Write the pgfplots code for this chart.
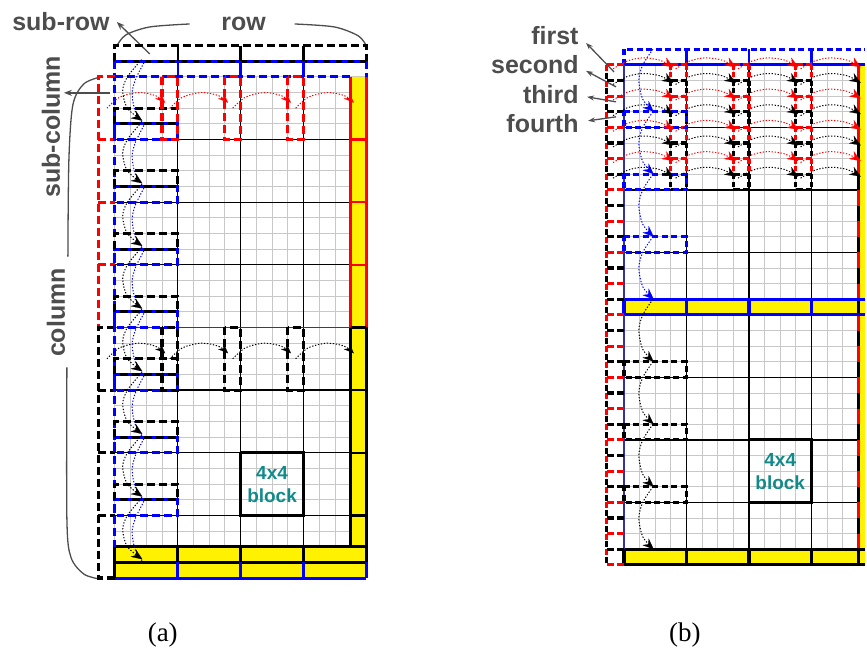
\documentclass[border=0pt]{standalone}
\usepackage{pgfplots}
\pgfplotsset{compat=1.18}
\usepackage{pgfplotstable}
\usetikzlibrary{arrows.meta}
\usepackage{fontspec}
\setmainfont{Liberation Serif}
\newfontfamily\arial{Liberation Sans}
\definecolor{txtgray}{RGB}{77,77,77}
\definecolor{navy}{RGB}{51,51,153}
\definecolor{tealtxt}{RGB}{18,138,138}
\definecolor{gridgray}{RGB}{200,200,200}

% red / black arcs across a block row (panel a)
\pgfplotstableread{
x y
-0.5 2.0
0.3 1.3
1.5 1.0
2.6 1.2
3.2 1.65
}\arcA
% arcs across rows (panel b)
\pgfplotstableread{
x y
-0.7 0.25
0.2 -0.25
1.2 -0.45
2.3 -0.3
3.15 0.15
}\arcB
% vertical wave in first block column (panel b)
\pgfplotstableread{
x y
1.85 -1.0
1.2 0.0
0.95 1.0
1.2 2.2
1.9 3.0
}\arcC
% waves in first block column (panel a)
\pgfplotstableread{
x y
1.7 -1.1
0.8 0.0
0.5 0.9
0.8 2.0
1.75 2.8
}\waveK
\pgfplotstableread{
x y
1.85 -0.9
1.3 0.2
1.1 1.1
1.3 2.2
1.8 3.0
}\waveB
% rectangles
\pgfplotstableread{
x y
0 3
0 2
4 2
4 3
0 3
}\rectBlack
\pgfplotstableread{
x y
0 3
4 3
4 4
0 4
0 3
}\rectBlue
\pgfplotstableread{
x y
0 0
0 4
1 4
1 0
0 0
}\vrect
\pgfplotstableread{
x y
0 0
4 0
4 1
0 1
0 0
}\rowRect
\pgfplotstableread{
x y
0 0
0 8
}\vseg
\pgfplotstableread{
x y
0 0
1 0
}\hseg

\tikzset{
  dsh/.style={line width=3.2pt, dash pattern=on 8pt off 4pt},
  dshs/.style={line width=3.2pt, dash pattern=on 6pt off 3.5pt},
  dshb/.style={line width=3.2pt, dash pattern=on 6pt off 6pt},
  mydot/.style={line width=1pt, dash pattern=on 1.3pt off 1.7pt},
  arrK/.style={-{Stealth[length=10pt,width=8pt,line width=0.1pt]}},
  arrL/.style={-{Stealth[length=11pt,width=9pt,line width=0.1pt]}},
  conn/.style={txtgray, line width=1.3pt},
  lbl/.style={font=\arial\bfseries\fontsize{25}{30}\selectfont, text=txtgray},
  blk/.style={font=\arial\bfseries\fontsize{19}{23}\selectfont, text=tealtxt, align=center},
  redv/.style={red, line width=3.2pt, dash pattern=on 5pt off 2.5pt on 5pt off 18.8pt},
  blackv/.style={black, line width=3.2pt, dash pattern=on 5pt off 2.5pt on 5pt off 18.8pt, dash phase=15.65pt},
  hd/.style={line width=3.2pt, dash pattern=on 7pt off 3pt},
}
\pgfplotsset{
  panel/.style={scale only axis, anchor=north west, ymin=0, ymax=32, y dir=reverse,
    clip=false, ytick={0,...,32}, xticklabels={}, yticklabels={},
    major tick length=0pt, tick style={draw=none}, grid=major,
    major grid style={gridgray, line width=0.9pt}, axis line style={draw=none},
    extra x ticks={4,8,12}, extra x tick labels={}, extra y tick labels={},
    extra tick style={major grid style={black, line width=1.3pt}}},
}

\begin{document}
\begin{tikzpicture}
% ---------------- background axis: labels and connectors (pixel units)
\begin{axis}[at={(0,0)}, anchor=south west, scale only axis, width=867pt, height=662pt,
  xmin=0, xmax=867, ymin=0, ymax=662, y dir=reverse, hide axis, clip=false]
\addplot[draw=none] coordinates {(0,0) (867,662)};
\node[lbl] at (axis cs:61,22) {sub-row};
\node[lbl] at (axis cs:244,24) {row};
\node[lbl, rotate=90] at (axis cs:51,127) {sub-column};
\node[lbl, rotate=90] at (axis cs:56,313) {column};
\node[lbl, anchor=east] at (axis cs:583,36) {first};
\node[lbl, anchor=east] at (axis cs:583,65) {second};
\node[lbl, anchor=east] at (axis cs:583,95) {third};
\node[lbl, anchor=east] at (axis cs:583,124) {fourth};
\node[font=\fontsize{27}{30}\selectfont] at (axis cs:163,636) {(a)};
\node[font=\fontsize{27}{30}\selectfont] at (axis cs:686,636) {(b)};
% braces and arrows
\addplot[conn, smooth] coordinates {(190,24) (150,27) (126,35) (117,46)};
\addplot[conn, smooth] coordinates {(295,24) (335,27) (359,36) (367,46)};
\addplot[conn, -{Stealth[length=8pt,width=6pt]}] coordinates {(150,54) (117,22)};
\addplot[conn, -{Stealth[length=8pt,width=6pt]}] coordinates {(110,93) (64,93)};
\addplot[conn, smooth] coordinates {(101,77) (84,84) (73,105) (69,160) (68,257)};
\addplot[conn, smooth] coordinates {(67,368) (67,520) (71,558) (84,575) (100,580)};
\addplot[conn, -{Stealth[length=7pt,width=5pt]}] coordinates {(615,72) (587,43)};
\addplot[conn, -{Stealth[length=7pt,width=5pt]}] coordinates {(617,87) (587,71)};
\addplot[conn, -{Stealth[length=7pt,width=5pt]}] coordinates {(617,102) (588,97)};
\addplot[conn, -{Stealth[length=7pt,width=5pt]}] coordinates {(617,117) (589,121)};
\end{axis}

% ---------------- panel (a)
\begin{axis}[panel, at={(115pt,585pt)}, width=252pt, height=502pt,
  xmin=0, xmax=16, xtick={0,...,16}, extra y ticks={4,8,12,16,20,24,28}]
% yellow areas
\addplot[fill=yellow, draw=none] coordinates {(15,0) (16,0) (16,30) (15,30) (15,0)};
\addplot[fill=yellow, draw=none] coordinates {(0,30) (16,30) (16,32) (0,32) (0,30)};
% yellow column borders
\addplot[red, line width=3pt] coordinates {(15,0) (15,16)};
\addplot[red, line width=3pt] coordinates {(16,0) (16,16)};
\pgfplotsinvokeforeach{4,8,12}{\addplot[red, line width=2.2pt] coordinates {(15,#1) (16,#1)};}
\addplot[black, line width=3pt] coordinates {(15,16) (15,30)};
\addplot[black, line width=3pt] coordinates {(16,16) (16,30)};
\pgfplotsinvokeforeach{16,20,24,28}{\addplot[black, line width=2.2pt] coordinates {(15,#1) (16,#1)};}
% yellow rows
\addplot[black, line width=3pt] coordinates {(0,30) (16,30)};
\addplot[black, line width=3pt] coordinates {(0,31) (16,31)};
\addplot[blue, line width=3pt] coordinates {(0,32) (16,32)};
\pgfplotsinvokeforeach{4,8,12}{
  \addplot[black, line width=3pt] coordinates {(#1,30) (#1,31)};
  \addplot[blue, line width=3pt] coordinates {(#1,31) (#1,32)};
}
\addplot[black, line width=3pt] coordinates {(16,30) (16,31)};
\addplot[blue, line width=3pt] coordinates {(16,31) (16,32)};
% navy separator
\addplot[navy, line width=1.8pt] coordinates {(0,16) (15,16)};
% sub-rows above
\addplot[black, dsh] coordinates {(0,-1) (0,-2) (16,-2) (16,-1)};
\addplot[blue, dsh] coordinates {(0,-1) (0,0)};
\addplot[blue, dsh] coordinates {(16,-1) (16,0)};
\addplot[blue, dshb] coordinates {(0,-1) (16,-1)};
\addplot[black, dshb, dash phase=6pt] coordinates {(0,-1) (16,-1)};
\addplot[blue, dsh] coordinates {(0,0) (15,0)};
\pgfplotsinvokeforeach{4,8,12}{
  \addplot[black, line width=2.4pt] coordinates {(#1,-2) (#1,-1)};
  \addplot[blue, line width=2.4pt] coordinates {(#1,-1) (#1,0)};
}
% left sub-column
\addplot[red, dsh] coordinates {(0,0) (-1.05,0) (-1.05,16) (0,16)};
\pgfplotsinvokeforeach{4,8,12}{\addplot[red, dsh] coordinates {(-1.05,#1) (0,#1)};}
\addplot[black, dsh] coordinates {(0,16) (-1.05,16) (-1.05,32) (0,32)};
\pgfplotsinvokeforeach{20,24,28}{\addplot[black, dsh] coordinates {(-1.05,#1) (0,#1)};}
\addplot[blue, dsh, dash phase=4pt] coordinates {(0,0) (0,30)};
\addplot[black, line width=3pt] coordinates {(0,30) (0,32)};
% rectangles in first block column
\pgfplotsinvokeforeach{0,4,...,24}{
  \addplot[blue, dsh] table[x=x, y expr=\thisrow{y}+#1] {\rectBlue};
  \addplot[black, dsh] table[x=x, y expr=\thisrow{y}+#1] {\rectBlack};
}
% vertical dashed rectangles
\pgfplotsinvokeforeach{3,7,11}{
  \addplot[red, dsh] table[x expr=\thisrow{x}+#1, y=y] {\vrect};
  \addplot[black, dsh] table[x expr=\thisrow{x}+#1, y expr=\thisrow{y}+16] {\vrect};
}
% arcs across blocks
\pgfplotsinvokeforeach{0,4,8,12}{
  \addplot[red, mydot, smooth, arrK] table[x expr=\thisrow{x}+#1, y=y] {\arcA};
  \addplot[black, mydot, smooth, arrK] table[x expr=\thisrow{x}+#1, y expr=\thisrow{y}+16] {\arcA};
}
% waves down the first block column
\pgfplotsinvokeforeach{0,4,...,28}{
  \addplot[blue, mydot, smooth] table[x=x, y expr=\thisrow{y}+#1] {\waveB};
  \addplot[black, mydot, smooth, arrL] table[x=x, y expr=\thisrow{y}+#1] {\waveK};
}
% 4x4 block
\addplot[black, line width=2.8pt, line cap=square] coordinates {(8,24) (12,24) (12,28) (8,28) (8,24)};
\node[blk] at (axis cs:10,26) {4x4\\block};
\end{axis}

% ---------------- panel (b)
\begin{axis}[panel, at={(625pt,597pt)}, width=241.8pt, height=500.8pt,
  xmin=0, xmax=15.45, xtick={0,...,15}, extra y ticks={4,8,12,20,24,28}]
% yellow areas
\addplot[fill=yellow, draw=none] coordinates {(15,0) (15.45,0) (15.45,32) (15,32) (15,0)};
\addplot[fill=yellow, draw=none] coordinates {(0,15) (15.45,15) (15.45,16) (0,16) (0,15)};
\addplot[fill=yellow, draw=none] coordinates {(0,31) (15.45,31) (15.45,32) (0,32) (0,31)};
% yellow column edge (red / black by row)
\addplot[red, line width=3pt] coordinates {(15,0) (15,32)};
\addplot[black, line width=3pt, dash pattern=on 15.65pt off 15.65pt, dash phase=15.65pt] coordinates {(15,0) (15,32)};
% yellow rows
\addplot[blue, line width=3.2pt] coordinates {(0,15) (15.45,15)};
\addplot[blue, line width=3.2pt] coordinates {(0,16) (15.45,16)};
\addplot[black, line width=3.2pt] coordinates {(0,31) (15.45,31)};
\addplot[black, line width=3.2pt] coordinates {(0,32) (15.45,32)};
\pgfplotsinvokeforeach{0,4,8,12}{
  \addplot[blue, line width=3.2pt] coordinates {(#1,15) (#1,16)};
  \addplot[black, line width=3.2pt] coordinates {(#1,31) (#1,32)};
}
% top edge, left edge
\addplot[blue, line width=3.2pt] coordinates {(0,0) (15.45,0)};
\addplot[navy, line width=1.4pt] coordinates {(0,0) (0,15)};
\addplot[navy, line width=1.4pt] coordinates {(0,16) (0,31)};
% sub-row
\addplot[blue, dshs] coordinates {(0,0) (0,-1) (15.45,-1)};
\pgfplotsinvokeforeach{4,8,12}{\addplot[blue, line width=2.4pt] coordinates {(#1,-1) (#1,0)};}
% left sub-column
\addplot[red, line width=3.2pt, dash pattern=on 6pt off 9.65pt] coordinates {(-1.1,0) (-1.1,32)};
\addplot[black, line width=3.2pt, dash pattern=on 6pt off 9.65pt, dash phase=7.8pt] coordinates {(-1.1,0) (-1.1,32)};
\pgfplotsinvokeforeach{0,2,...,32}{\addplot[red, hd] coordinates {(-1.1,#1) (0,#1)};}
\pgfplotsinvokeforeach{1,3,...,31}{\addplot[black, hd] coordinates {(-1.1,#1) (0,#1)};}
% vertical strips in the first two block rows
\pgfplotsinvokeforeach{3,7,11}{
  \addplot[redv] table[x expr=\thisrow{x}+#1, y=y] {\vseg};
  \addplot[blackv] table[x expr=\thisrow{x}+#1, y=y] {\vseg};
  \addplot[redv] table[x expr=\thisrow{x}+#1+1, y=y] {\vseg};
  \addplot[blackv] table[x expr=\thisrow{x}+#1+1, y=y] {\vseg};
  \addplot[red, hd] table[x expr=\thisrow{x}+#1, y expr=\thisrow{y}+0] {\hseg};
  \addplot[black, hd] table[x expr=\thisrow{x}+#1, y expr=\thisrow{y}+1] {\hseg};
  \addplot[red, hd] table[x expr=\thisrow{x}+#1, y expr=\thisrow{y}+2] {\hseg};
  \addplot[black, hd] table[x expr=\thisrow{x}+#1, y expr=\thisrow{y}+3] {\hseg};
  \addplot[red, hd] table[x expr=\thisrow{x}+#1, y expr=\thisrow{y}+4] {\hseg};
  \addplot[black, hd] table[x expr=\thisrow{x}+#1, y expr=\thisrow{y}+5] {\hseg};
  \addplot[red, hd] table[x expr=\thisrow{x}+#1, y expr=\thisrow{y}+6] {\hseg};
  \addplot[black, hd] table[x expr=\thisrow{x}+#1, y expr=\thisrow{y}+7] {\hseg};
  \addplot[black, hd] table[x expr=\thisrow{x}+#1, y expr=\thisrow{y}+8] {\hseg};
}
% row rectangles in the first block column
\pgfplotsinvokeforeach{3,7,11}{\addplot[blue, dshs] table[x=x, y expr=\thisrow{y}+#1] {\rowRect};}
\pgfplotsinvokeforeach{19,23,27}{\addplot[black, dshs] table[x=x, y expr=\thisrow{y}+#1] {\rowRect};}
% waves down the first block column
\pgfplotsinvokeforeach{0,4,8,12}{\addplot[blue, mydot, smooth, arrL] table[x=x, y expr=\thisrow{y}+#1] {\arcC};}
\pgfplotsinvokeforeach{16,20,24,28}{\addplot[black, mydot, smooth, arrL] table[x=x, y expr=\thisrow{y}+#1] {\arcC};}
% arcs across rows
\pgfplotsinvokeforeach{0,4,8,12}{
  \addplot[red, mydot, smooth, arrL] table[x expr=\thisrow{x}+#1, y expr=\thisrow{y}+0] {\arcB};
  \addplot[black, mydot, smooth, arrL] table[x expr=\thisrow{x}+#1, y expr=\thisrow{y}+1] {\arcB};
  \addplot[red, mydot, smooth, arrL] table[x expr=\thisrow{x}+#1, y expr=\thisrow{y}+2] {\arcB};
  \addplot[black, mydot, smooth, arrL] table[x expr=\thisrow{x}+#1, y expr=\thisrow{y}+3] {\arcB};
  \addplot[red, mydot, smooth, arrL] table[x expr=\thisrow{x}+#1, y expr=\thisrow{y}+4] {\arcB};
  \addplot[black, mydot, smooth, arrL] table[x expr=\thisrow{x}+#1, y expr=\thisrow{y}+5] {\arcB};
  \addplot[red, mydot, smooth, arrL] table[x expr=\thisrow{x}+#1, y expr=\thisrow{y}+6] {\arcB};
  \addplot[black, mydot, smooth, arrL] table[x expr=\thisrow{x}+#1, y expr=\thisrow{y}+7] {\arcB};
}
% 4x4 block
\addplot[black, line width=2.8pt, line cap=square] coordinates {(8,24) (12,24) (12,28) (8,28) (8,24)};
\node[blk] at (axis cs:10,26) {4x4\\block};
\end{axis}
\end{tikzpicture}
\end{document}
